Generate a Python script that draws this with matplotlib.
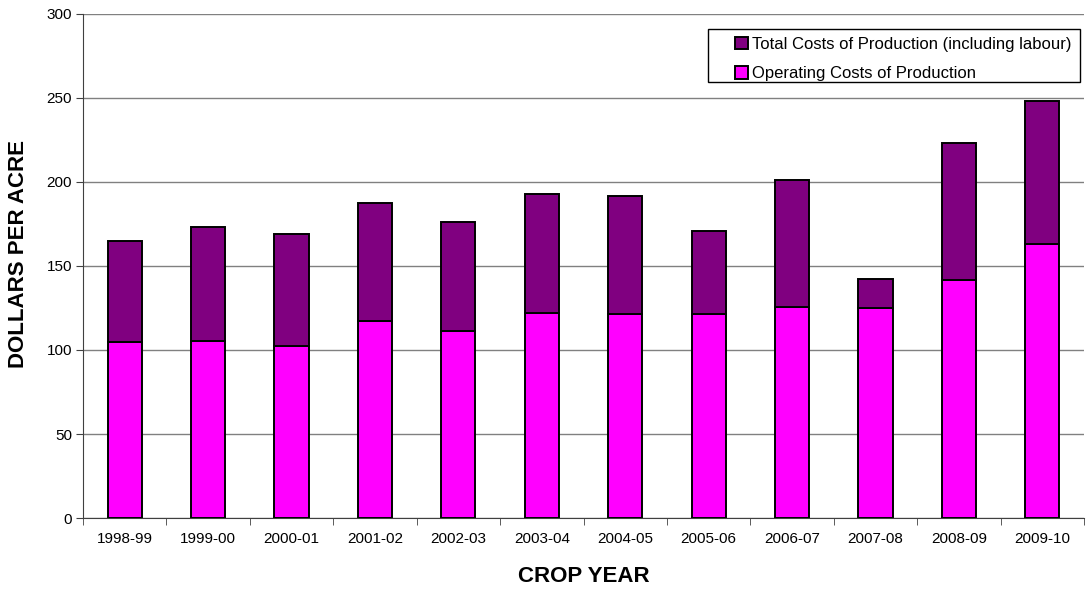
import numpy as np
import matplotlib
matplotlib.use('Agg')
import matplotlib.pyplot as plt
from matplotlib.patches import Rectangle

# datos
years = ['1998-99', '1999-00', '2000-01', '2001-02', '2002-03', '2003-04',
         '2004-05', '2005-06', '2006-07', '2007-08', '2008-09', '2009-10']
operating = [105, 105.5, 102.3, 117, 111.2, 122, 121.2, 121.4, 125.5, 125.2, 141.7, 163]
total = [165, 173, 169.2, 187.5, 176.2, 192.6, 191.5, 170.6, 201, 142, 223.1, 248]

plt.rcParams['font.family'] = ['Liberation Sans', 'DejaVu Sans']

W, H = 1091, 589
fig = plt.figure(figsize=(W / 100, H / 100), dpi=100)
ax = fig.add_axes([83 / W, 1 - 518 / H, (1084 - 83) / W, (518 - 14) / H])

x = np.arange(len(years))
labour = np.array(total) - np.array(operating)

b_op = ax.bar(x, operating, width=0.41, color='#ff00ff', edgecolor='black', linewidth=1.4, zorder=3)
b_tot = ax.bar(x, labour, bottom=operating, width=0.41, color='#800080', edgecolor='black',
               linewidth=1.4, zorder=3)

ax.set_xlim(-0.5, len(years) - 0.5)
ax.set_ylim(0, 300)
ax.set_yticks(np.arange(0, 301, 50))
ax.yaxis.grid(True, color='#808080', linewidth=1, zorder=0)

ax.set_xticks(x)
ax.set_xticklabels(years)
ax.set_xticks(np.arange(-0.5, len(years), 1), minor=True)
ax.tick_params(axis='x', which='major', length=0, labelsize=11, pad=10)
ax.tick_params(axis='x', which='minor', length=5, color='#404040')
ax.tick_params(axis='y', length=5, labelsize=11, pad=3, color='#404040')

for s in ['top', 'right']:
    ax.spines[s].set_visible(False)
ax.spines['left'].set_color('#404040')
ax.spines['bottom'].set_color('#404040')

fig.text(19 / W, 1 - 254 / H, 'DOLLARS PER ACRE', fontsize=16, fontweight='bold',
         rotation=90, ha='center', va='center')
fig.text(584 / W, 1 - 577 / H, 'CROP YEAR', fontsize=16, fontweight='bold',
         ha='center', va='center')

# caja de la leyenda
fig.patches.append(Rectangle((708 / W, 1 - 82 / H), (1080 - 708) / W, (82 - 29) / H,
                             transform=fig.transFigure, facecolor='white',
                             edgecolor='black', linewidth=1, zorder=4))
leg = fig.legend([b_tot, b_op], ['Total Costs of Production (including labour)',
                                 'Operating Costs of Production'],
                 loc='upper left', bbox_to_anchor=(735 / W, 1 - 36.5 / H), fontsize=12,
                 frameon=False, handlelength=0.8, handleheight=0.8, handletextpad=0.25,
                 borderpad=0, labelspacing=0.85, borderaxespad=0)
leg.set_zorder(5)

fig.savefig('out.png', dpi=100)
